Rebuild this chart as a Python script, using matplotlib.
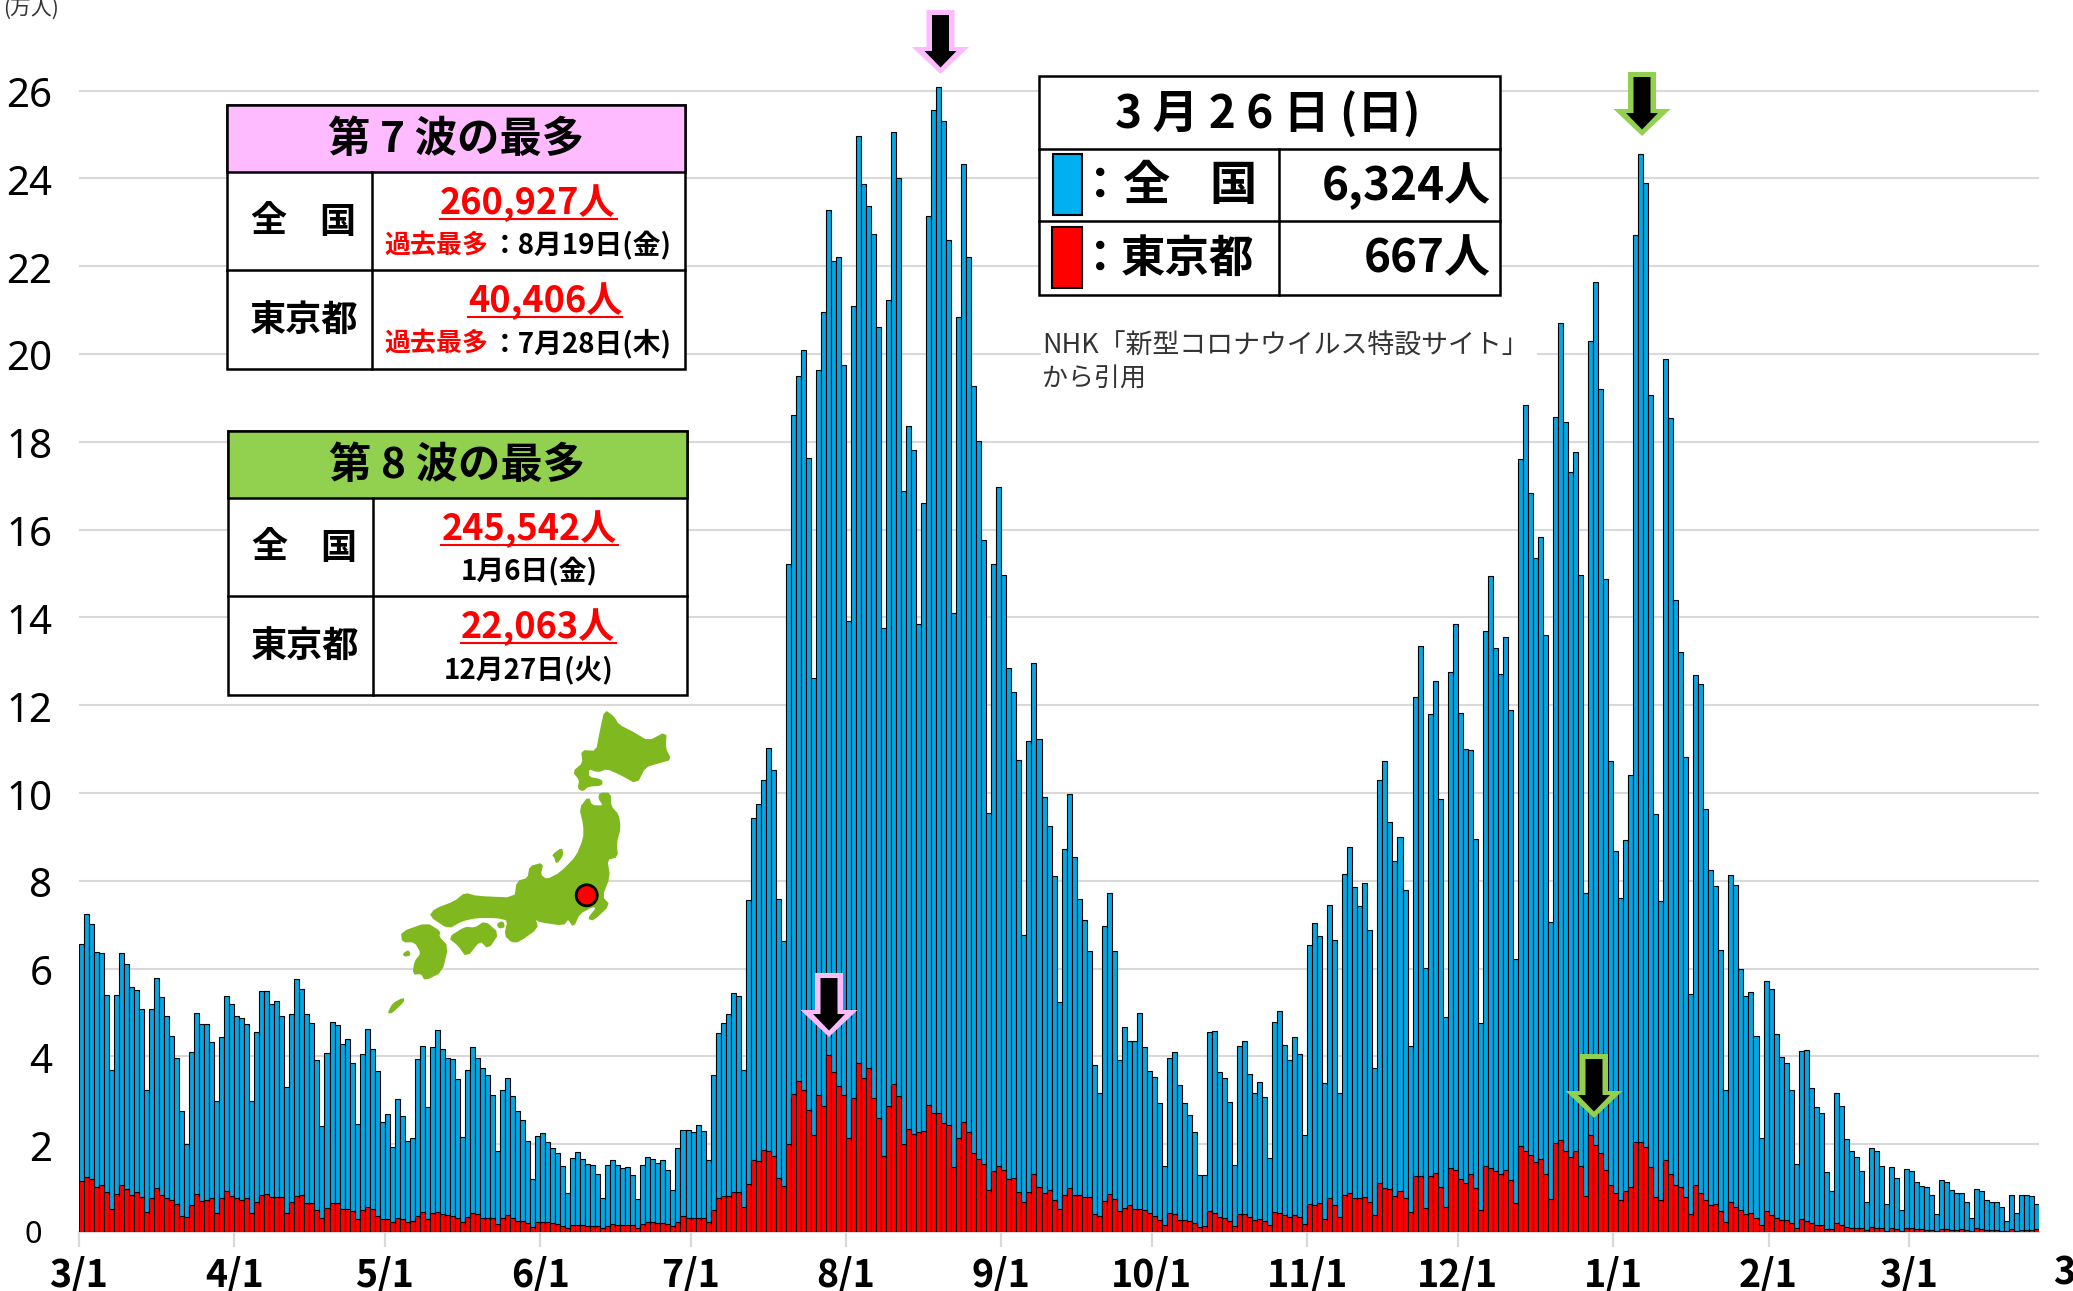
import matplotlib
matplotlib.use('Agg')
import matplotlib.pyplot as plt
from matplotlib.patches import Polygon, Rectangle, Circle
from matplotlib.transforms import ScaledTranslation

plt.rcParams['font.family'] = ['Noto Sans CJK JP', 'DejaVu Sans']

# 全国の新規感染者数(万人) 2022/3/1 - 2023/3/26
zenkoku = [
    6.55, 7.25, 7.02, 6.37, 6.35, 5.40, 3.70, 5.40, 6.36, 6.10, 5.58, 5.52, 5.08, 3.23, 5.07, 5.78, 5.35, 4.91, 4.46, 3.96,
    2.76, 2.01, 4.10, 4.99, 4.74, 4.74, 4.33, 2.98, 4.44, 5.38, 5.19, 4.92, 4.87, 4.73, 2.98, 4.56, 5.48, 5.49, 5.20, 5.26,
    4.91, 3.30, 4.97, 5.77, 5.53, 4.97, 4.75, 3.92, 2.41, 4.08, 4.78, 4.71, 4.29, 4.39, 3.85, 2.47, 4.05, 4.62, 4.17, 3.66,
    2.50, 2.69, 1.93, 3.04, 2.64, 2.07, 2.15, 3.93, 4.24, 2.85, 4.21, 4.59, 4.17, 3.96, 3.93, 3.49, 2.17, 3.68, 4.21, 3.96,
    3.73, 3.58, 3.13, 1.85, 3.23, 3.51, 3.09, 2.75, 2.56, 2.07, 1.21, 2.19, 2.26, 2.05, 1.91, 1.80, 1.50, 0.89, 1.69, 1.82,
    1.66, 1.55, 1.53, 1.32, 0.78, 1.52, 1.64, 1.53, 1.46, 1.47, 1.30, 0.76, 1.53, 1.71, 1.66, 1.57, 1.64, 1.41, 0.95, 1.92,
    2.32, 2.33, 2.27, 2.44, 2.29, 1.63, 3.58, 4.54, 4.75, 4.97, 5.44, 5.37, 3.68, 7.56, 9.42, 9.76, 10.30, 11.03, 10.53, 7.58,
    6.64, 15.22, 18.60, 19.50, 20.08, 17.64, 12.63, 19.63, 20.96, 23.28, 22.12, 22.20, 19.76, 13.92, 21.10, 24.97, 23.87, 23.36, 22.74, 20.62,
    13.75, 21.24, 25.05, 24.00, 16.87, 18.35, 17.82, 13.85, 16.60, 23.15, 25.55, 26.09, 25.30, 22.60, 14.09, 20.84, 24.33, 22.20, 19.27, 18.01,
    15.76, 9.55, 15.22, 16.96, 14.97, 12.85, 12.29, 10.75, 6.77, 11.18, 12.95, 11.22, 9.91, 9.25, 8.10, 5.23, 8.72, 9.98, 8.55, 7.59,
    7.10, 6.40, 3.80, 3.17, 6.98, 7.73, 6.39, 3.92, 4.68, 4.35, 4.35, 4.99, 4.21, 3.67, 3.54, 2.94, 1.50, 3.96, 4.11, 3.34,
    2.94, 2.67, 2.28, 1.30, 1.30, 4.56, 4.57, 3.64, 3.51, 2.97, 1.53, 4.24, 4.35, 3.61, 3.16, 3.42, 3.08, 1.68, 4.78, 5.03,
    4.27, 3.92, 4.44, 4.05, 2.22, 6.53, 7.05, 6.75, 3.39, 7.44, 6.65, 3.16, 8.15, 8.76, 7.86, 7.42, 7.95, 6.89, 3.74, 10.30,
    10.74, 9.33, 8.45, 9.00, 7.79, 4.24, 12.18, 13.35, 6.01, 11.80, 12.55, 9.86, 4.90, 12.76, 13.86, 11.83, 11.01, 10.97, 8.95, 4.75,
    13.70, 14.95, 13.30, 12.71, 13.56, 11.90, 6.22, 17.60, 18.84, 16.84, 15.36, 15.83, 13.61, 7.07, 18.57, 20.70, 18.44, 17.32, 17.76, 14.96,
    7.72, 20.30, 21.63, 19.20, 14.87, 10.73, 8.67, 7.61, 8.94, 10.42, 22.70, 24.55, 23.89, 19.06, 9.52, 7.54, 19.88, 18.55, 14.40, 13.21,
    10.82, 5.43, 12.69, 12.49, 9.63, 8.24, 7.88, 6.42, 3.23, 8.13, 7.91, 5.98, 5.38, 5.46, 4.46, 2.13, 5.71, 5.54, 4.52, 3.98,
    3.84, 3.23, 1.54, 4.13, 4.14, 3.28, 2.85, 2.72, 1.36, 0.93, 3.16, 2.86, 2.12, 1.84, 1.70, 1.40, 0.68, 1.91, 1.85, 1.50,
    0.63, 1.47, 1.22, 0.51, 1.44, 1.38, 1.13, 1.04, 1.03, 0.85, 0.40, 1.18, 1.15, 0.96, 0.89, 0.89, 0.68, 0.31, 0.98, 0.93,
    0.74, 0.68, 0.68, 0.58, 0.25, 0.85, 0.43, 0.84, 0.84, 0.81, 0.63,
]

# 東京都の新規感染者数(万人)
tokyo = [
    1.16, 1.25, 1.21, 1.03, 1.07, 0.91, 0.52, 0.87, 1.07, 0.99, 0.84, 0.90, 0.80, 0.46, 0.77, 1.00, 0.84, 0.77, 0.73, 0.63,
    0.37, 0.34, 0.62, 0.87, 0.71, 0.74, 0.77, 0.43, 0.77, 0.93, 0.82, 0.77, 0.73, 0.77, 0.43, 0.68, 0.85, 0.87, 0.80, 0.80,
    0.80, 0.43, 0.68, 0.81, 0.84, 0.66, 0.66, 0.50, 0.33, 0.55, 0.66, 0.66, 0.52, 0.52, 0.48, 0.30, 0.49, 0.58, 0.52, 0.37,
    0.29, 0.29, 0.23, 0.31, 0.29, 0.23, 0.26, 0.36, 0.45, 0.29, 0.43, 0.46, 0.40, 0.39, 0.36, 0.32, 0.22, 0.35, 0.43, 0.40,
    0.33, 0.33, 0.31, 0.19, 0.31, 0.38, 0.31, 0.25, 0.25, 0.20, 0.11, 0.22, 0.23, 0.23, 0.20, 0.18, 0.13, 0.09, 0.16, 0.17,
    0.17, 0.14, 0.14, 0.14, 0.08, 0.13, 0.18, 0.16, 0.15, 0.15, 0.15, 0.09, 0.18, 0.23, 0.23, 0.20, 0.20, 0.18, 0.13, 0.23,
    0.36, 0.33, 0.32, 0.32, 0.33, 0.23, 0.49, 0.77, 0.81, 0.83, 0.92, 0.90, 0.56, 1.10, 1.65, 1.61, 1.86, 1.84, 1.73, 1.22,
    1.05, 2.00, 3.15, 3.45, 3.23, 2.78, 2.20, 3.11, 2.87, 4.04, 3.64, 3.32, 3.11, 2.14, 3.06, 3.85, 3.51, 3.73, 3.06, 2.59,
    1.74, 2.87, 3.38, 3.10, 2.00, 2.35, 2.23, 2.27, 2.31, 2.89, 2.70, 2.72, 2.48, 2.44, 1.48, 2.14, 2.50, 2.27, 1.80, 1.67,
    1.54, 0.96, 1.39, 1.50, 1.41, 1.20, 1.22, 0.92, 0.69, 0.90, 1.31, 1.03, 0.88, 0.96, 0.73, 0.53, 0.84, 1.01, 0.84, 0.84,
    0.79, 0.80, 0.40, 0.36, 0.70, 0.87, 0.75, 0.47, 0.54, 0.62, 0.52, 0.53, 0.49, 0.44, 0.36, 0.27, 0.16, 0.43, 0.40, 0.28,
    0.28, 0.25, 0.21, 0.12, 0.13, 0.47, 0.43, 0.34, 0.31, 0.25, 0.14, 0.41, 0.41, 0.34, 0.27, 0.30, 0.26, 0.16, 0.45, 0.43,
    0.39, 0.34, 0.39, 0.35, 0.18, 0.63, 0.62, 0.66, 0.30, 0.78, 0.62, 0.34, 0.84, 0.88, 0.78, 0.78, 0.79, 0.69, 0.39, 1.11,
    1.00, 0.97, 0.82, 0.93, 0.78, 0.45, 1.27, 1.27, 0.54, 1.28, 1.35, 1.02, 0.57, 1.45, 1.42, 1.20, 1.11, 1.32, 1.01, 0.50,
    1.51, 1.46, 1.39, 1.33, 1.42, 1.19, 0.65, 1.95, 1.84, 1.75, 1.59, 1.66, 1.33, 0.76, 2.02, 2.09, 1.84, 1.71, 1.84, 1.50,
    0.81, 2.21, 1.98, 1.80, 1.42, 1.08, 0.88, 0.72, 0.94, 1.03, 2.04, 2.04, 1.93, 1.48, 0.79, 0.72, 1.64, 1.32, 1.08, 1.03,
    0.79, 0.41, 1.08, 0.88, 0.74, 0.61, 0.63, 0.47, 0.22, 0.69, 0.56, 0.49, 0.41, 0.43, 0.33, 0.17, 0.47, 0.38, 0.33, 0.27,
    0.28, 0.20, 0.08, 0.29, 0.24, 0.20, 0.17, 0.15, 0.06, 0.06, 0.20, 0.16, 0.12, 0.10, 0.08, 0.08, 0.04, 0.12, 0.10, 0.08,
    0.02, 0.10, 0.06, 0.02, 0.09, 0.08, 0.07, 0.06, 0.05, 0.04, 0.02, 0.07, 0.06, 0.05, 0.05, 0.06, 0.04, 0.02, 0.08, 0.07,
    0.05, 0.04, 0.04, 0.03, 0.02, 0.06, 0.02, 0.05, 0.05, 0.05, 0.067,
]

month_pos = [0, 31, 61, 92, 122, 153, 184, 214, 245, 275, 306, 337, 365]
month_labels = ['3/1', '4/1', '5/1', '6/1', '7/1', '8/1', '9/1', '10/1', '11/1', '12/1', '1/1', '2/1', '3/1']
y_ticks = [2, 4, 6, 8, 10, 12, 14, 16, 18, 20, 22, 24, 26]

BLUE = '#07A6E3'
PINK = '#FFBBFF'
GREEN = '#92D050'
GRID = '#D9D9D9'
MAP = '#80B81F'

W, H = 2073, 1291
left, right, base = 78.8, 2039.3, 1232
unit = 43.9

fig = plt.figure(figsize=(W / 100, H / 100), dpi=100)
ax = fig.add_axes([left / W, (H - base) / H, (right - left) / W, base / H])

days = list(range(len(zenkoku)))
centers = [d + 0.5 for d in days]
ax.bar(centers, zenkoku, width=1.0, color=BLUE, edgecolor='black', linewidth=0.8, zorder=3)
ax.bar(centers, tokyo, width=1.0, color='#FF0000', edgecolor='black', linewidth=0.8, zorder=4)

ax.set_xlim(0, len(zenkoku))
ax.set_ylim(0, base / unit)
ax.set_yticks(y_ticks)
ax.set_yticklabels([str(v) for v in y_ticks], fontsize=29, family=['Noto Sans', 'DejaVu Sans'])
ax.tick_params(axis='y', length=0, pad=19)
for lab in ax.get_yticklabels():
    lab.set_transform(lab.get_transform() + ScaledTranslation(0, -0.015, fig.dpi_scale_trans))
ax.set_xticks(month_pos)
ax.set_xticklabels(month_labels, fontsize=27, fontweight='bold')
ax.tick_params(axis='x', length=11, width=1.6, color=GRID, pad=6)
ax.yaxis.grid(True, color=GRID, linewidth=1.5, zorder=0)
ax.set_axisbelow(True)
for side in ['top', 'left', 'right']:
    ax.spines[side].set_visible(False)
ax.spines['bottom'].set_color(GRID)
ax.spines['bottom'].set_linewidth(1.6)

# 表や矢印などはピクセル座標のオーバーレイに描く
ov = fig.add_axes([0, 0, 1, 1], zorder=10)
ov.set_xlim(0, W)
ov.set_ylim(H, 0)
ov.axis('off')
ov.patch.set_alpha(0)


def txt(x, y, s, size, color='black', weight='bold', ha='center', va='center', family=None):
    return ov.text(x, y, s, fontsize=size, color=color, fontweight=weight, ha=ha, va=va,
                   family=family or ['Noto Sans CJK JP', 'DejaVu Sans'])


def box(x0, y0, x1, y1, face='white', edge='black', lw=1.8, z=2):
    ov.add_patch(Rectangle((x0, y0), x1 - x0, y1 - y0, facecolor=face, edgecolor=edge, linewidth=lw, zorder=z))


def wave_table(x0, x1, xc, y0, y1, y2, y3, color, title, rows):
    box(x0, y0, x1, y3)
    box(x0, y0, x1, y1, face=color)
    ov.plot([x0, x1], [y2, y2], color='black', lw=1.8, zorder=3)
    ov.plot([xc, xc], [y1, y3], color='black', lw=1.8, zorder=3)
    txt((x0 + x1) / 2, (y0 + y1) / 2 + 2, title, 30.5)
    for (top, r) in zip([y1, y2], rows):
        txt(x0 + 23, top + 50, r[0][0], 26, ha='left')
        if len(r[0]) > 1:
            txt(x0 + 128, top + 50, r[0][1], 26, ha='right')
        txt(r[1], top + 31, r[2], 26, color='#FF0000')
        ov.plot([r[3], r[4]], [top + 47, top + 47], color='#FF0000', lw=1.5, zorder=4)
        if r[5]:
            txt(x0 + 157, top + 74, '過去最多', 18.7, color='#FF0000', ha='left')
            txt(x1 - 13, top + 74, r[6], 20, ha='right')
        else:
            txt(r[7], top + 74, r[6], 20)


wave_table(227, 685, 372, 105, 172, 270, 369, PINK, '第 7 波の最多', [
    (['全', '国'], 528, '260,927人', 440, 617, True, '：8月19日(金)', 0),
    (['東京都'], 545, '40,406人', 468, 622, True, '：7月28日(木)', 0),
])
wave_table(228, 687, 373, 431, 498, 596, 695, GREEN, '第 8 波の最多', [
    (['全', '国'], 529, '245,542人', 441, 618, False, '1月6日(金)', 529),
    (['東京都'], 538, '22,063人', 461, 616, False, '12月27日(火)', 529),
])

# 3月26日の表
box(1039, 76, 1500, 295)
ov.plot([1039, 1500], [149, 149], color='black', lw=1.8, zorder=3)
ov.plot([1039, 1500], [221, 221], color='black', lw=1.8, zorder=3)
ov.plot([1279, 1279], [149, 295], color='black', lw=1.8, zorder=3)
txt(1268, 114, '3 月 2 6 日 (日)', 33)
box(1053, 154, 1082, 215, face='#00B0F0', lw=1.5, z=4)
box(1052, 227, 1082, 288, face='#FF0000', lw=1.5, z=4)
txt(1100, 186, '：', 32)
txt(1100, 259, '：', 32)
txt(1146, 186, '全', 34)
txt(1233, 186, '国', 34)
txt(1188, 259, '東京都', 32)
txt(1491, 186, '6,324人', 33, ha='right')
txt(1491, 259, '667人', 33, ha='right')

# 出典
ov.add_patch(Rectangle((1041, 328), 496, 66, facecolor='white', edgecolor='none', zorder=1))
txt(1042, 346, 'NHK「新型コロナウイルス特設サイト」', 19.4, color='#333333', weight='normal', ha='left')
txt(1042, 378, 'から引用', 18.7, color='#333333', weight='normal', ha='left')

# 軸まわりの文字
txt(3, 9, '(万人)', 15, color='#333333', weight='normal', ha='left')
txt(42, base + 3, '0', 22, weight='normal', ha='right', family=['Noto Sans', 'DejaVu Sans'])
txt(2053, 1273, '3', 27, ha='left')


# 矢印
def arrow(cx, y0, color):
    outer = [(cx - 14, y0), (cx + 14, y0), (cx + 14, y0 + 37), (cx + 28.5, y0 + 37), (cx, y0 + 64),
             (cx - 28.5, y0 + 37), (cx - 14, y0 + 37)]
    inner = [(cx - 8.5, y0 + 5), (cx + 8.5, y0 + 5), (cx + 8.5, y0 + 41), (cx + 16, y0 + 41), (cx, y0 + 57.5),
             (cx - 16, y0 + 41), (cx - 8.5, y0 + 41)]
    ov.add_patch(Polygon(outer, facecolor=color, edgecolor='none', zorder=5))
    ov.add_patch(Polygon(inner, facecolor='black', edgecolor='none', zorder=6))


arrow(940.5, 10, PINK)
arrow(829, 973, PINK)
arrow(1642, 72, GREEN)
arrow(1594, 1054, GREEN)


# 角を丸くする
def soften(pts):
    out = []
    for i, p in enumerate(pts):
        q = pts[(i + 1) % len(pts)]
        out.append((0.8 * p[0] + 0.2 * q[0], 0.8 * p[1] + 0.2 * q[1]))
        out.append((0.2 * p[0] + 0.8 * q[0], 0.2 * p[1] + 0.8 * q[1]))
    return out


# 日本地図(拡大図の座標で取ったもの)
islands = [
    [(675, 32), (700, 50), (715, 75), (760, 98), (805, 125), (858, 97), (855, 145), (872, 178), (840, 187), (795, 200),
     (770, 250), (720, 222), (680, 205), (655, 215), (625, 205), (625, 232), (665, 240), (665, 255), (625, 258),
     (608, 272), (595, 265), (600, 240), (580, 215), (610, 190), (605, 152), (650, 155), (662, 90)],
    [(660, 280), (690, 280), (692, 320), (715, 345), (720, 385), (708, 430), (712, 470), (680, 478), (688, 530),
     (665, 590), (688, 615), (640, 660), (625, 655), (650, 625), (640, 618), (598, 640), (580, 680), (565, 655),
     (550, 675), (480, 665), (465, 655), (472, 685), (415, 725), (395, 725), (375, 705), (385, 660), (350, 652),
     (290, 652), (245, 662), (205, 685), (150, 648), (165, 628), (225, 605), (255, 580), (290, 590), (405, 595),
     (412, 545), (445, 535), (450, 500), (488, 490), (480, 525), (500, 540), (540, 520), (590, 470), (612, 415),
     (612, 375), (600, 325), (625, 292), (635, 318), (672, 318), (657, 295)],
    [(207, 713), (255, 682), (285, 685), (315, 665), (355, 700), (325, 745), (300, 720), (260, 770), (235, 735)],
    [(65, 697), (140, 670), (180, 695), (175, 710), (203, 740), (185, 815), (135, 840), (125, 820), (100, 822),
     (105, 785), (125, 760), (105, 725), (68, 725)],
    [(518, 465), (545, 445), (548, 465), (530, 490), (525, 472)],
    [(25, 938), (40, 910), (70, 895), (70, 905), (35, 938)],
    [(352, 672), (368, 665), (373, 680), (358, 684)],
    [(70, 762), (85, 752), (90, 765), (75, 768)],
]
for isl in islands:
    pts = [(380 + px / 3, 700 + py / 3) for px, py in isl]
    ov.add_patch(Polygon(soften(pts), facecolor=MAP, edgecolor=MAP, linewidth=1.0, joinstyle='round', zorder=2))
ov.add_patch(Circle((586.7, 895.3), 10.5, facecolor='#FF0000', edgecolor='black', linewidth=2, zorder=3))

fig.savefig('out.png', dpi=100)
